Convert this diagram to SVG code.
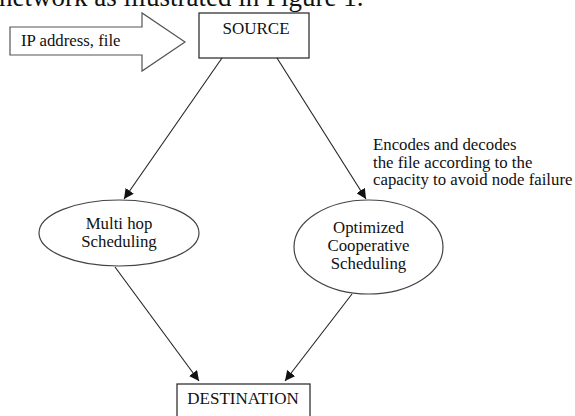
<svg xmlns="http://www.w3.org/2000/svg" width="575" height="416" viewBox="0 0 575 416">
  <style>
    text { font-family: "Liberation Serif", "Times New Roman", serif; fill: #111; }
    .lbl { font-size: 16.8px; }
    .cap { font-size: 17px; }
    .ctr { text-anchor: middle; }
    .box { fill: #fff; stroke: #333; stroke-width: 1.3; }
    .ell { fill: #fff; stroke: #444; stroke-width: 1.2; }
    .edge { fill: none; stroke: #222; stroke-width: 1.1; marker-end: url(#arr); }
  </style>
  <defs>
    <marker id="arr" viewBox="0 0 10 10" refX="10" refY="5" markerWidth="10" markerHeight="10" markerUnits="userSpaceOnUse" orient="auto">
      <path d="M0,0 L10,5 L0,10 z" fill="#111"/>
    </marker>
  </defs>
  <rect width="575" height="416" fill="#fff"/>

  <text x="-1" y="6" style="font-size:27px">network as illustrated in Figure 1.</text>

  <g id="input-arrow">
    <polygon points="10,27 142,27 142,13 185,42 142,71 142,55 10,55" fill="#fff" stroke="#555" stroke-width="1.2"/>
    <text class="lbl" x="21" y="46">IP address, file</text>
  </g>

  <g id="source">
    <rect class="box" x="199" y="13" width="110" height="45"/>
    <text class="cap ctr" x="256" y="34">SOURCE</text>
  </g>

  <g id="multihop">
    <ellipse class="ell" cx="119" cy="233" rx="80" ry="33"/>
    <text class="lbl ctr" x="119" y="229">Multi hop</text>
    <text class="lbl ctr" x="119" y="247">Scheduling</text>
  </g>

  <g id="optimized">
    <ellipse class="ell" cx="368.5" cy="247" rx="74.5" ry="47"/>
    <text class="lbl ctr" x="368.5" y="233">Optimized</text>
    <text class="lbl ctr" x="368.5" y="251">Cooperative</text>
    <text class="lbl ctr" x="368.5" y="269">Scheduling</text>
  </g>

  <g id="destination">
    <rect class="box" x="177" y="384" width="133" height="40"/>
    <text class="cap ctr" x="243" y="404">DESTINATION</text>
  </g>

  <g id="note">
    <text class="lbl" x="373" y="150">Encodes and decodes</text>
    <text class="lbl" x="373" y="168">the file according to the</text>
    <text class="lbl" x="373" y="185">capacity to avoid node failure</text>
  </g>

  <g id="connectors">
    <line class="edge" x1="222" y1="58" x2="124" y2="199"/>
    <line class="edge" x1="277" y1="58" x2="366" y2="199"/>
    <line class="edge" x1="115" y1="267" x2="199" y2="381"/>
    <line class="edge" x1="352" y1="294" x2="285" y2="381"/>
  </g>
</svg>
